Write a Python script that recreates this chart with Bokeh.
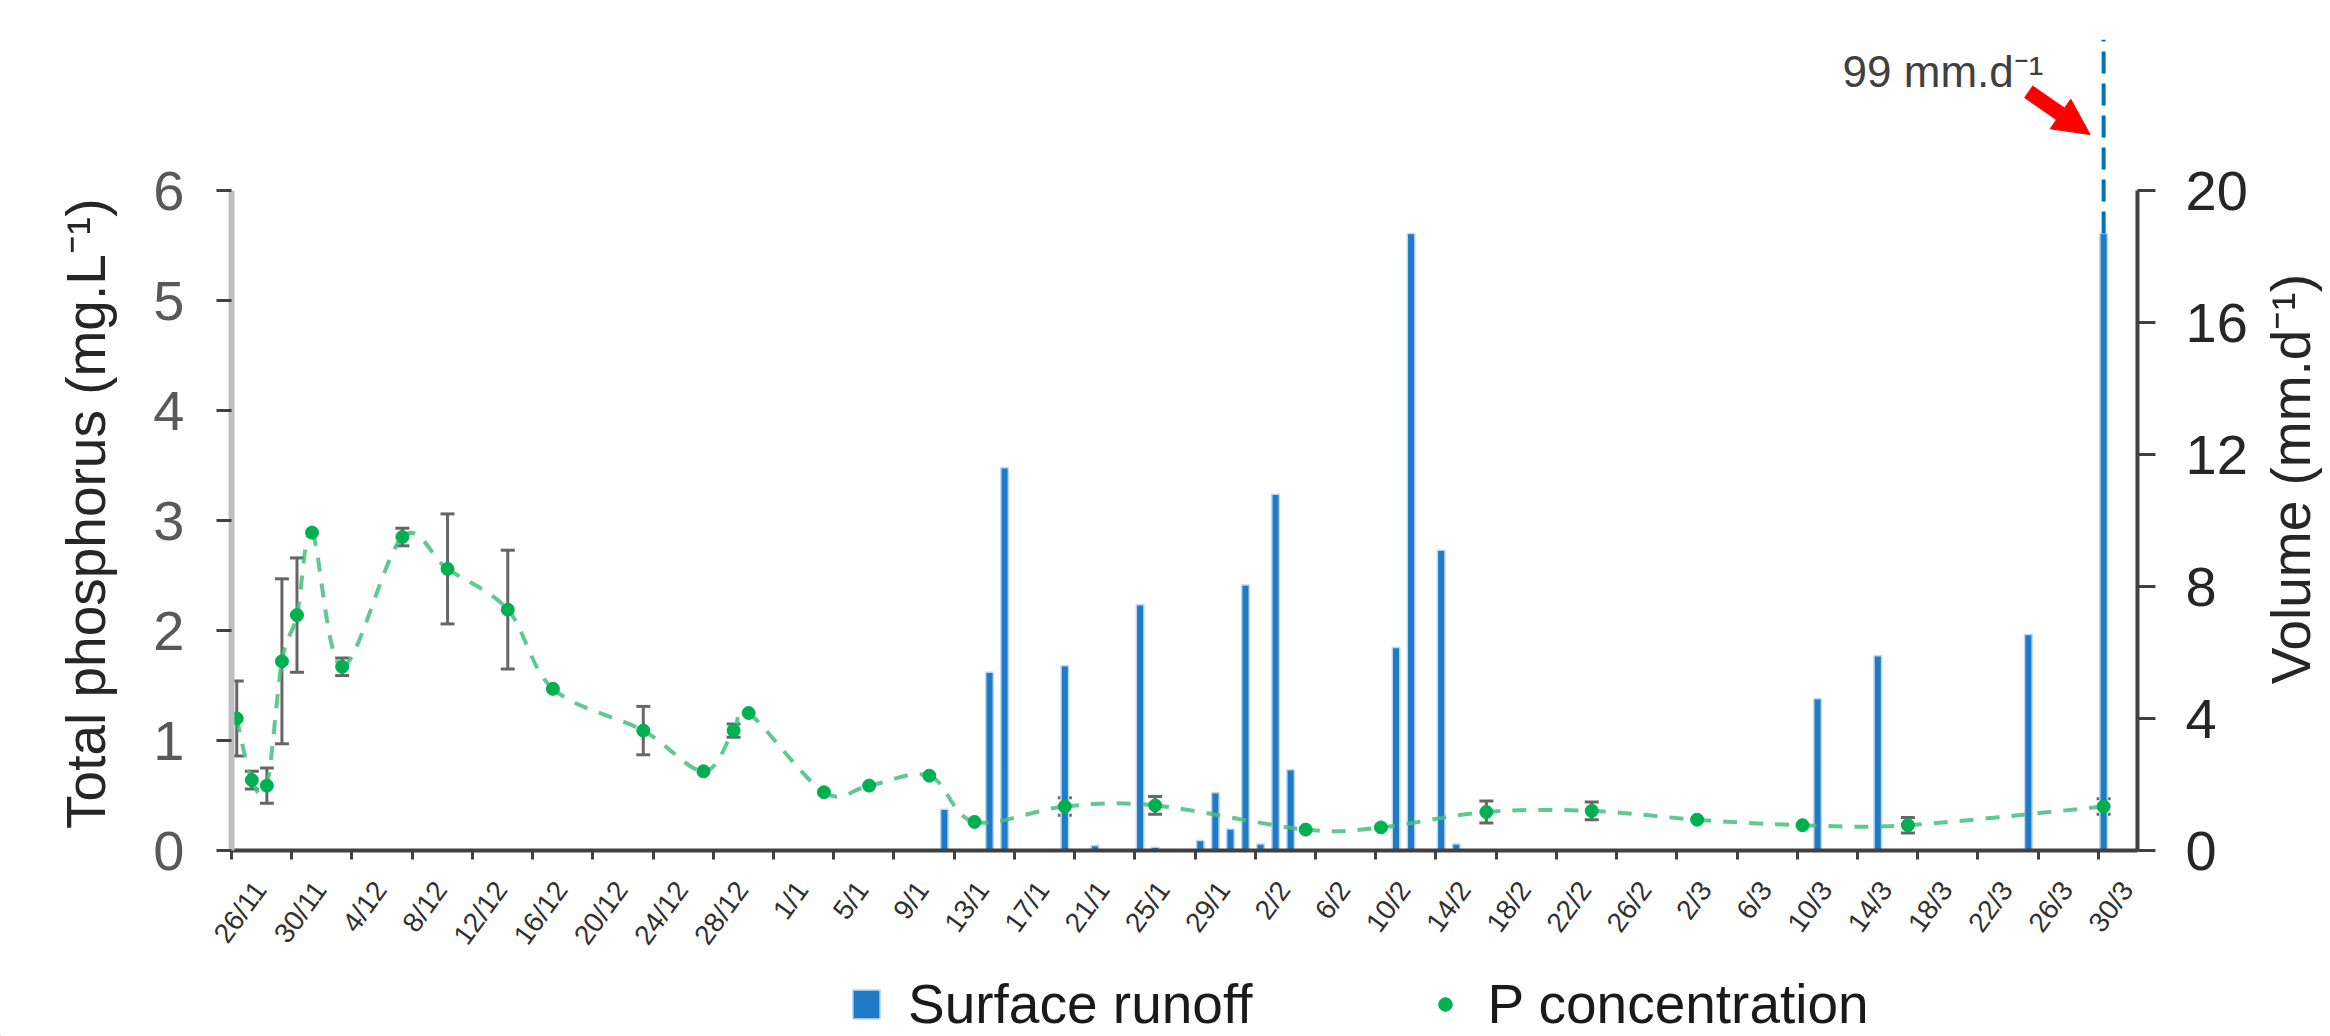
import datetime as dt
from math import radians, pi

from bokeh.plotting import figure
from bokeh.layouts import row, column
from bokeh.models import (Range1d, LinearAxis, FixedTicker, ColumnDataSource, Whisker,
                          TeeHead, Arrow, NormalHead, Label, Legend, LegendItem)
from bokeh.embed import file_html
from bokeh.resources import INLINE

# ---------------- data ----------------
tick_labels = ["26/11", "30/11", "4/12", "8/12", "12/12", "16/12", "20/12", "24/12",
               "28/12", "1/1", "5/1", "9/1", "13/1", "17/1", "21/1", "25/1", "29/1",
               "2/2", "6/2", "10/2", "14/2", "18/2", "22/2", "26/2", "2/3", "6/3",
               "10/3", "14/3", "18/3", "22/3", "26/3", "30/3"]

runoff_dates = ["12/1", "15/1", "16/1", "20/1", "22/1", "25/1", "26/1", "29/1", "30/1",
                "31/1", "1/2", "2/2", "3/2", "4/2", "11/2", "12/2", "14/2", "15/2",
                "11/3", "15/3", "25/3", "30/3"]
runoff_mm = [1.25, 5.4, 11.6, 5.6, 0.15, 7.45, 0.1, 0.3, 1.75,
             0.65, 8.05, 0.2, 10.8, 2.45, 6.15, 18.7, 9.1, 0.2,
             4.6, 5.9, 6.55, 99]

p_dates = ["26/11", "27/11", "28/11", "29/11", "30/11", "1/12", "3/12", "7/12", "10/12",
           "14/12", "17/12", "23/12", "27/12", "29/12", "30/12", "4/1", "7/1", "11/1",
           "14/1", "20/1", "26/1", "5/2", "10/2", "17/2", "24/2", "3/3", "10/3",
           "17/3", "30/3"]
p_mg = [1.20, 0.64, 0.59, 1.72, 2.14, 2.89, 1.67, 2.85, 2.56,
        2.19, 1.47, 1.09, 0.72, 1.09, 1.25, 0.53, 0.59, 0.68,
        0.26, 0.40, 0.41, 0.19, 0.21, 0.35, 0.36, 0.28, 0.23,
        0.23, 0.40]
p_sd = [0.34, 0.08, 0.16, 0.75, 0.52, 0.0, 0.08, 0.08, 0.50,
        0.54, 0.0, 0.22, 0.0, 0.06, 0.0, 0.0, 0.0, 0.0,
        0.0, 0.08, 0.08, 0.0, 0.0, 0.10, 0.08, 0.0, 0.0,
        0.07, 0.07]

# ---------------- helpers ----------------
START = dt.date(2017, 11, 26)


def to_day(s):
    d, m = map(int, s.split("/"))
    y = 2017 if m >= 11 else 2018
    return (dt.date(y, m, d) - START).days


SHIFT = 0.35          # data drawn near the middle of its day
LABEL_SHIFT = 1.9     # rotated date labels sit slightly right of their tick
VOL_CAP = 18.7        # height at which off-scale bars are broken
X_END = 126.6
P_TOP = 7.373
V_TOP = 24.58
NB = "\u00a0"
FONT = "Liberation Sans"

TOTAL_W, TOTAL_H = 2322, 1036
FRAME_L, FRAME_R, FRAME_T, FRAME_B = 231, 2137, 39, 850
W_MAIN, H_MAIN = 2252, 963
W_SIDE = TOTAL_W - W_MAIN
H_LEG = TOTAL_H - H_MAIN

tick_days = [to_day(t) for t in tick_labels]
bar_x = [to_day(d) + SHIFT for d in runoff_dates]
bar_shown = [min(v, VOL_CAP) for v in runoff_mm]
px = [to_day(d) + SHIFT for d in p_dates]

BAR_STYLE = dict(fill_color="#1F7AC8", line_color="#BDD7EE", line_width=1.5)
DOT_STYLE = dict(size=13, fill_color="#00B050", line_color="#00B050")

p = figure(width=W_MAIN, height=H_MAIN, x_range=Range1d(0, X_END), y_range=Range1d(0, P_TOP),
           output_backend="svg", toolbar_location=None,
           min_border_left=FRAME_L, min_border_right=W_MAIN - FRAME_R, min_border_top=FRAME_T,
           min_border_bottom=H_MAIN - FRAME_B)
p.outline_line_color = None
p.grid.visible = False
p.background_fill_color = "white"
p.border_fill_color = "white"
p.extra_y_ranges = {"vol": Range1d(0, V_TOP)}

# ---- x axis: ticks every 4 days (minor), date labels (major, offset) ----
lab_pos = [d + LABEL_SHIFT for d in tick_days]
xa = p.xaxis[0]
xa.ticker = FixedTicker(ticks=lab_pos, minor_ticks=tick_days)
xa.major_label_overrides = {d: lab for d, lab in zip(lab_pos, tick_labels)}
xa.major_label_orientation = radians(54)
xa.major_label_text_font = FONT
xa.major_label_text_font_size = "28px"
xa.major_label_text_color = "#303030"
xa.major_label_standoff = 25
xa.axis_line_color = "#404040"
xa.axis_line_width = 4
xa.major_tick_line_color = None
xa.major_tick_out = 0
xa.major_tick_in = 0
xa.minor_tick_line_color = "#404040"
xa.minor_tick_line_width = 3
xa.minor_tick_out = 9
xa.minor_tick_in = 0

# ---- left axis ----
ya = p.yaxis[0]
ya.ticker = FixedTicker(ticks=[0, 1, 2, 3, 4, 5, 6])
ya.bounds = (0, 6)
ya.axis_line_color = "#BFBFBF"
ya.axis_line_width = 6
ya.major_tick_line_color = "#404040"
ya.major_tick_line_width = 3
ya.major_tick_out = 15
ya.major_tick_in = 0
ya.minor_tick_line_color = None
ya.major_label_text_font = FONT
ya.major_label_text_font_size = "56px"
ya.major_label_text_color = "#595959"
ya.major_label_standoff = 32
ya.axis_label = "Total phosphorus (mg.L⁻¹)" + NB * 9
ya.axis_label_text_font = FONT
ya.axis_label_text_font_size = "55px"
ya.axis_label_text_font_style = "normal"
ya.axis_label_text_color = "#262626"
ya.axis_label_standoff = 33

# ---- right axis ----
ra = LinearAxis(y_range_name="vol", ticker=FixedTicker(ticks=[0, 4, 8, 12, 16, 20]), bounds=(0, 20))
ra.axis_line_color = "#404040"
ra.axis_line_width = 4
ra.major_tick_line_color = "#404040"
ra.major_tick_line_width = 3
ra.major_tick_out = 18
ra.major_tick_in = 0
ra.minor_tick_line_color = None
ra.major_label_text_font = FONT
ra.major_label_text_font_size = "56px"
ra.major_label_text_color = "#262626"
ra.major_label_standoff = 30
p.add_layout(ra, "right")

# ---- runoff bars ----
bars = p.vbar(x=bar_x, top=bar_shown, bottom=0, width=0.5, y_range_name="vol", **BAR_STYLE)

over_x = [x for x, v in zip(bar_x, runoff_mm) if v > VOL_CAP]
over_v = [v for v in runoff_mm if v > VOL_CAP]
p.segment(x0=over_x, y0=[VOL_CAP] * len(over_x), x1=over_x, y1=[V_TOP] * len(over_x),
          y_range_name="vol", line_color="#0070C0", line_width=4, line_dash="22 10")

for bx, v in zip(over_x, over_v):
    p.add_layout(Arrow(x_start=bx - 5.0, y_start=23.0, x_end=bx - 0.9, y_end=21.7,
                       y_range_name="vol", line_color="#FF0000", line_width=15,
                       end=NormalHead(size=36, fill_color="#FF0000", line_color="#FF0000")))
    p.add_layout(Label(x=bx - 4.0, y=23.6, y_range_name="vol", text=f"{v:g} mm.d⁻¹",
                       text_align="right", text_baseline="alphabetic", text_font=FONT,
                       text_font_size="44px", text_color="#404040"))

# ---- P concentration: smoothed dashed line (Bezier through points) ----
n = len(px)
x0s, y0s, x1s, y1s, cx0s, cy0s, cx1s, cy1s = [], [], [], [], [], [], [], []
for i in range(n - 1):
    a = i - 1 if i > 0 else i
    b = i + 2 if i + 2 < n else i + 1
    x0s.append(px[i]); y0s.append(p_mg[i])
    x1s.append(px[i + 1]); y1s.append(p_mg[i + 1])
    cx0s.append(px[i] + (px[i + 1] - px[a]) / 6.0)
    cy0s.append(p_mg[i] + (p_mg[i + 1] - p_mg[a]) / 6.0)
    cx1s.append(px[i + 1] - (px[b] - px[i]) / 6.0)
    cy1s.append(p_mg[i + 1] - (p_mg[b] - p_mg[i]) / 6.0)
p.bezier(x0=x0s, y0=y0s, x1=x1s, y1=y1s, cx0=cx0s, cy0=cy0s, cx1=cx1s, cy1=cy1s,
         line_color="#45C07C", line_width=4, line_dash="14 12", line_alpha=0.85)

# ---- error bars ----
ex = [x for x, s in zip(px, p_sd) if s > 0]
eu = [v + s for v, s in zip(p_mg, p_sd) if s > 0]
el = [v - s for v, s in zip(p_mg, p_sd) if s > 0]
esrc = ColumnDataSource(dict(x=ex, upper=eu, lower=el))
p.add_layout(Whisker(source=esrc, base="x", upper="upper", lower="lower",
                     line_color="#666666", line_width=3,
                     upper_head=TeeHead(size=14, line_color="#666666", line_width=3),
                     lower_head=TeeHead(size=14, line_color="#666666", line_width=3)))

pts = p.scatter(x=px, y=p_mg, **DOT_STYLE)

# ---- right-hand title strip ----
pr = figure(width=W_SIDE, height=H_MAIN, x_range=Range1d(0, W_SIDE), y_range=Range1d(0, H_MAIN),
            output_backend="svg", toolbar_location=None, min_border=0,
            x_axis_location=None, y_axis_location=None)
pr.outline_line_color = None
pr.grid.visible = False
pr.add_layout(Label(x=7, y=H_MAIN - 522, text="Volume (mm.d⁻¹)", angle=pi / 2,
                    text_align="center", text_baseline="top", text_font=FONT,
                    text_font_size="55px", text_color="#262626"))

# ---- legend strip ----
pl = figure(width=TOTAL_W, height=H_LEG, x_range=Range1d(0, TOTAL_W), y_range=Range1d(0, H_LEG),
            output_backend="svg", toolbar_location=None, min_border=0,
            x_axis_location=None, y_axis_location=None)
pl.outline_line_color = None
pl.grid.visible = False
# legend swatches only (one point each, kept outside the strip's visible range)
leg_bar = pl.vbar(x=[-1000], top=[1], width=1, **BAR_STYLE)
leg_dot = pl.scatter(x=[-1000], y=[1], **DOT_STYLE)
legend = Legend(items=[LegendItem(label="Surface runoff", renderers=[leg_bar]),
                       LegendItem(label="P concentration", renderers=[leg_dot])],
                location=(849, 0), orientation="horizontal",
                glyph_width=34, glyph_height=36, label_standoff=25, spacing=176,
                padding=0, margin=0, border_line_color=None, background_fill_alpha=0,
                label_text_font=FONT, label_text_font_size="55px", label_text_color="#1a1a1a")
pl.add_layout(legend)

layout = column(row(p, pr), pl)
open("out.html", "w").write(file_html(layout, INLINE))
